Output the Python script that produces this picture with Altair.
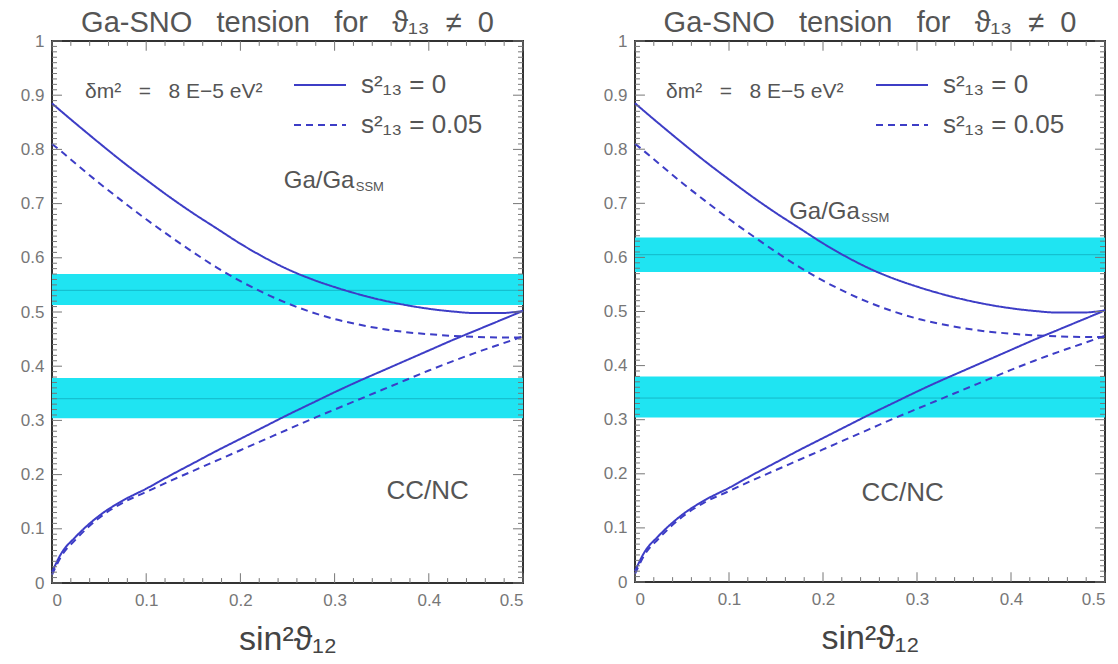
import altair as alt
import pandas as pd
import numpy as np

NB = "\u00a0"

# ---------------- data ----------------
XS = [0, 0.01, 0.025, 0.05, 0.075, 0.1, 0.125, 0.15, 0.175, 0.2, 0.225, 0.25,
      0.275, 0.3, 0.325, 0.35, 0.375, 0.4, 0.425, 0.45, 0.475, 0.5]
GA_S0 = [0.885, 0.870, 0.848, 0.812, 0.777, 0.744, 0.712, 0.682, 0.654, 0.626, 0.601,
         0.579, 0.561, 0.546, 0.533, 0.522, 0.513, 0.506, 0.501, 0.498, 0.498, 0.502]
GA_S05 = [0.810, 0.796, 0.774, 0.738, 0.704, 0.671, 0.640, 0.610, 0.582, 0.557, 0.535,
          0.516, 0.500, 0.487, 0.477, 0.469, 0.463, 0.459, 0.456, 0.454, 0.453, 0.453]
CC_S0 = [0.020, 0.055, 0.085, 0.124, 0.152, 0.174, 0.198, 0.221, 0.244, 0.266, 0.288,
         0.310, 0.331, 0.352, 0.372, 0.391, 0.410, 0.429, 0.448, 0.466, 0.484, 0.502]
CC_S05 = [0.015, 0.050, 0.080, 0.120, 0.148, 0.168, 0.188, 0.207, 0.226, 0.245, 0.264,
          0.283, 0.302, 0.320, 0.338, 0.356, 0.374, 0.392, 0.409, 0.425, 0.440, 0.455]

SERIES = ["s²₁₃" + NB + "=" + NB + "0", "s²₁₃" + NB + "=" + NB + "0.05"]

# bands: [low, high, central]
LEFT_GA_BAND = [0.513, 0.570, 0.540]
LEFT_CC_BAND = [0.304, 0.378, 0.340]
RIGHT_GA_BAND = [0.573, 0.637, 0.605]
RIGHT_CC_BAND = [0.304, 0.380, 0.340]

SP3 = NB * 3
TITLE = "Ga-SNO" + SP3 + "tension" + SP3 + "for" + SP3 + "ϑ₁₃" + NB * 2 + "≠" + NB * 2 + "0"
X_TITLE = "sin²ϑ₁₂"
DM_TEXT = "δm²" + NB * 3 + "=" + NB * 3 + "8" + NB + "E−5" + NB + "eV²"
GA_TEXT = "Ga/Ga"
SSM_TEXT = "SSM"
CC_TEXT = "CC/NC"

X_TICKS = [0, 0.1, 0.2, 0.3, 0.4, 0.5]
Y_TICKS = [0, 0.1, 0.2, 0.3, 0.4, 0.5, 0.6, 0.7, 0.8, 0.9, 1.0]

# label anchor positions (data coords) per panel
LEFT_LABELS = {"dm": (0.035, 0.905), "ga": (0.246, 0.742), "cc": (0.355, 0.170)}
RIGHT_LABELS = {"dm": (0.033, 0.905), "ga": (0.164, 0.683), "cc": (0.241, 0.165)}

CURVE_COLOR = "#3d3dc6"
BAND_COLOR = "#1fe4f2"
MID_COLOR = "#14b8c8"
FONT = "Liberation Sans"
TXT = "#555555"


def curves_df():
    rows = []
    for name, ys, ser in [("ga0", GA_S0, SERIES[0]), ("ga5", GA_S05, SERIES[1]),
                          ("cc0", CC_S0, SERIES[0]), ("cc5", CC_S05, SERIES[1])]:
        for x, y in zip(XS, ys):
            rows.append({"x": x, "y": y, "curve": name, "series": ser})
    return pd.DataFrame(rows)


def ticks_df():
    rows = []
    xmaj = np.round(np.arange(0, 0.5001, 0.1), 4)
    xmin = np.round(np.arange(0, 0.5001, 0.02), 4)
    ymaj = np.round(np.arange(0, 1.0001, 0.1), 4)
    ymin = np.round(np.arange(0, 1.0001, 0.01), 4)
    for v in xmin:
        ln = 0.018 if np.any(np.isclose(v, xmaj)) else 0.009
        rows.append({"x1": v, "x2": v, "y1": 0, "y2": ln})
        rows.append({"x1": v, "x2": v, "y1": 1, "y2": 1 - ln})
    for v in ymin:
        ln = 0.0106 if np.any(np.isclose(v, ymaj)) else 0.0053
        rows.append({"x1": 0, "x2": ln, "y1": v, "y2": v})
        rows.append({"x1": 0.5, "x2": 0.5 - ln, "y1": v, "y2": v})
    return pd.DataFrame(rows)


def panel(ga_band, cc_band, labels, legend_x, width, height):
    xscale = alt.Scale(domain=[0, 0.5], nice=False, zero=False)
    yscale = alt.Scale(domain=[0, 1], nice=False, zero=False)
    xaxis = alt.Axis(values=X_TICKS, format="~g", tickSize=0, domain=False, grid=False,
                     labelFontSize=17, labelColor="#777777", labelFont=FONT, labelPadding=9,
                     title=X_TITLE, titleFontSize=34, titleFont=FONT, titleColor="#444444",
                     titleFontWeight="normal", titlePadding=14)
    yaxis = alt.Axis(values=Y_TICKS, format="~g", tickSize=0, domain=False, grid=False,
                     labelFontSize=17, labelColor="#777777", labelFont=FONT, labelPadding=8,
                     title=None, minExtent=38, maxExtent=38)

    bands = pd.DataFrame({"lo": [ga_band[0], cc_band[0]], "hi": [ga_band[1], cc_band[1]],
                          "mid": [ga_band[2], cc_band[2]]})
    rect = alt.Chart(bands).mark_rect(color=BAND_COLOR).encode(
        x=alt.datum(0, type="quantitative", scale=xscale), x2=alt.datum(0.5),
        y=alt.Y("lo:Q", scale=yscale, axis=yaxis), y2="hi:Q")
    mid = alt.Chart(bands).mark_rule(color=MID_COLOR, strokeWidth=1).encode(
        x=alt.datum(0, type="quantitative"), x2=alt.datum(0.5), y="mid:Q")

    lines = alt.Chart(curves_df()).mark_line(color=CURVE_COLOR, strokeWidth=2,
                                              interpolate="monotone").encode(
        x=alt.X("x:Q", scale=xscale, axis=xaxis),
        y=alt.Y("y:Q", scale=yscale, axis=yaxis),
        detail="curve:N",
        order="x:Q",
        strokeDash=alt.StrokeDash(
            "series:N",
            scale=alt.Scale(domain=SERIES, range=[[1, 0], [7, 5]]),
            legend=alt.Legend(orient="none", legendX=legend_x, legendY=17, title=None,
                              symbolType="stroke", symbolSize=2704, symbolStrokeWidth=2,
                              symbolStrokeColor=CURVE_COLOR, labelFontSize=26,
                              labelFont=FONT, labelColor=TXT, labelOffset=14,
                              rowPadding=-18, padding=0)))

    ticks = alt.Chart(ticks_df()).mark_rule(color="#777777", strokeWidth=1).encode(
        x="x1:Q", x2="x2:Q", y="y1:Q", y2="y2:Q")

    tdf = pd.DataFrame({
        "x": [labels["dm"][0], labels["ga"][0], labels["ga"][0], labels["cc"][0]],
        "y": [labels["dm"][1], labels["ga"][1], labels["ga"][1], labels["cc"][1]],
        "t": [DM_TEXT, GA_TEXT, SSM_TEXT, CC_TEXT],
        "kind": ["dm", "ga", "ssm", "cc"],
    })
    dm = alt.Chart(tdf[tdf.kind == "dm"]).mark_text(
        align="left", baseline="middle", fontSize=21, font=FONT, color=TXT).encode(
        x="x:Q", y="y:Q", text="t:N")
    ga = alt.Chart(tdf[tdf.kind == "ga"]).mark_text(
        align="left", baseline="middle", fontSize=24, font=FONT, color=TXT).encode(
        x="x:Q", y="y:Q", text="t:N")
    cc = alt.Chart(tdf[tdf.kind == "cc"]).mark_text(
        align="left", baseline="middle", fontSize=26, font=FONT, color=TXT).encode(
        x="x:Q", y="y:Q", text="t:N")
    ssm = alt.Chart(tdf[tdf.kind == "ssm"]).mark_text(
        align="left", baseline="middle", fontSize=13, font=FONT, color=TXT,
        dx=72, dy=6).encode(x="x:Q", y="y:Q", text="t:N")

    return alt.layer(rect, mid, lines, ticks, dm, ga, cc, ssm).properties(
        width=width, height=height,
        title=alt.TitleParams(TITLE, fontSize=29, font=FONT, color=TXT,
                              fontWeight="normal", anchor="middle", frame="group",
                              offset=-6))


left = panel(LEFT_GA_BAND, LEFT_CC_BAND, LEFT_LABELS, 241, 471, 542)
right = panel(RIGHT_GA_BAND, RIGHT_CC_BAND, RIGHT_LABELS, 240, 470, 541)

chart = alt.hconcat(left, right, spacing=68).resolve_legend(
    strokeDash="independent").properties(
    padding={"left": 5, "top": 0, "right": 0, "bottom": 0}
).configure_view(stroke="#333333", strokeWidth=2)

chart.save("out.html", embed_options={"renderer": "svg", "actions": False})
